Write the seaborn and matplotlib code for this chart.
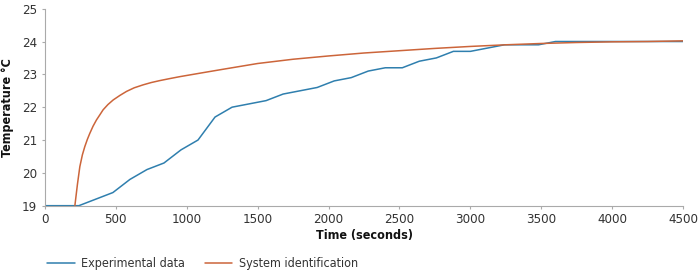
import pandas as pd
import matplotlib.pyplot as plt
import seaborn as sns

# Experimental data (time in s, temperature in degC)
exp_time = [0, 120, 240, 360, 480, 600, 720, 840, 960, 1080, 1200, 1320, 1440,
            1560, 1680, 1800, 1920, 2040, 2160, 2280, 2400, 2520, 2640, 2760,
            2880, 3000, 3120, 3240, 3360, 3480, 3600, 3720, 3840, 3960, 4080,
            4200, 4320, 4440, 4500]
exp_temp = [19.0, 19.0, 19.0, 19.2, 19.4, 19.8, 20.1, 20.3, 20.7, 21.0, 21.7,
            22.0, 22.1, 22.2, 22.4, 22.5, 22.6, 22.8, 22.9, 23.1, 23.2, 23.2,
            23.4, 23.5, 23.7, 23.7, 23.8, 23.9, 23.9, 23.9, 24.0, 24.0, 24.0,
            24.0, 24.0, 24.0, 24.0, 24.0, 24.0]

# System identification model response
sid_time = [212, 230, 247, 265, 282, 300, 317, 340, 364, 390, 411, 445, 482,
            530, 576, 630, 693, 750, 811, 880, 952, 1100, 1250, 1500, 1750,
            2000, 2250, 2500, 2750, 3000, 3250, 3500, 3750, 4000, 4250, 4500]
sid_temp = [19.0, 19.65, 20.19, 20.55, 20.8, 21.02, 21.2, 21.42, 21.61, 21.78,
            21.92, 22.08, 22.22, 22.36, 22.48, 22.59, 22.68, 22.75, 22.81,
            22.87, 22.93, 23.04, 23.15, 23.33, 23.46, 23.56, 23.65, 23.72,
            23.79, 23.85, 23.9, 23.94, 23.97, 23.99, 24.0, 24.02]

labels = ['Experimental data', 'System identification']

df = pd.concat([
    pd.DataFrame({'Time': exp_time, 'Temp': exp_temp, 'Series': labels[0]}),
    pd.DataFrame({'Time': sid_time, 'Temp': sid_temp, 'Series': labels[1]}),
])

sns.set_style('ticks')
plt.rcParams['font.family'] = ['DejaVu Sans']
plt.rcParams['font.stretch'] = 'condensed'

fig, ax = plt.subplots(figsize=(7, 2.71), dpi=100)
fig.subplots_adjust(left=0.064, right=0.976, top=0.968, bottom=0.241)

sns.lineplot(data=df, x='Time', y='Temp', hue='Series', ax=ax,
             palette={labels[0]: '#2f7fae', labels[1]: '#cc653a'},
             linewidth=1.1, estimator=None, sort=False)

ax.set_xlim(0, 4500)
ax.set_ylim(19, 25)
ax.set_xticks(range(0, 4501, 500))
ax.set_yticks(range(19, 26))
ax.set_xlabel('Time (seconds)', fontsize=9, fontweight='bold', labelpad=2,
              color='#111111')
ax.set_ylabel('Temperature °C', fontsize=9, fontweight='bold', labelpad=6,
              color='#111111')
ax.tick_params(labelsize=9.5, length=2.5, width=0.8, color='#aaaaaa',
               labelcolor='#333333', pad=3)
for side in ['left', 'bottom']:
    ax.spines[side].set_color('#aaaaaa')
    ax.spines[side].set_linewidth(0.8)
sns.despine(ax=ax)

sns.move_legend(ax, 'center left', bbox_to_anchor=(-0.004, -0.295), ncol=2,
                title=None, frameon=False, fontsize=9, handlelength=2.2,
                handletextpad=0.5, columnspacing=1.6, borderaxespad=0)
for t in ax.get_legend().get_texts():
    t.set_color('#333333')

plt.savefig('out.png', dpi=100)
